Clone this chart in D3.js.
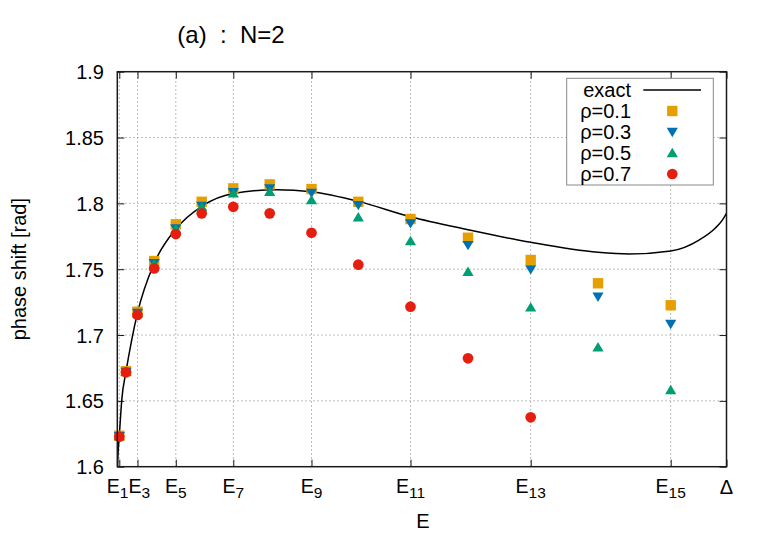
<!DOCTYPE html>
<html>
<head>
<meta charset="utf-8">
<script src="https://cdn.jsdelivr.net/npm/d3@7"></script>
<style>
  body { margin: 0; background: #fff; }
  svg { display: block; font-family: "Liberation Sans", Arial, sans-serif; }
</style>
</head>
<body>
<svg id="chart" width="765" height="535"></svg>
<script>
// ---------- data (E in units of Δ) ----------
const levels = [0.00328, 0.01428, 0.03316, 0.06057, 0.09603, 0.13854, 0.19041, 0.25016,
                0.31878, 0.3956, 0.48129, 0.57567, 0.67859, 0.78907, 0.90841];
const rho01 = [1.6235, 1.6725, 1.7177, 1.7562, 1.7841, 1.8012, 1.8114, 1.8144, 1.8109, 1.8012, 1.7881, 1.7739, 1.7570, 1.7393, 1.7226];
const rho03 = [1.6232, 1.6720, 1.7167, 1.7545, 1.7810, 1.7980, 1.8084, 1.8114, 1.8080, 1.7987, 1.7848, 1.7683, 1.7499, 1.7291, 1.7084];
const rho05 = [1.6232, 1.6720, 1.7165, 1.7540, 1.7803, 1.7974, 1.8076, 1.8088, 1.8025, 1.7894, 1.7714, 1.7481, 1.7210, 1.6907, 1.6582];
const rho07 = [1.6228, 1.6717, 1.7152, 1.7506, 1.7767, 1.7924, 1.7974, 1.7924, 1.7777, 1.7534, 1.7215, 1.6823, 1.6375];
const exactE = [0.0001, 0.0008, 0.00328, 0.0073, 0.01428, 0.0236, 0.03316, 0.06057, 0.09603, 0.13854,
                0.19041, 0.2613, 0.31878, 0.3956, 0.48129, 0.57567, 0.67859, 0.78907, 0.84, 0.90841,
                0.9549, 0.9822, 0.9932, 1.0];
const exactV = [1.585, 1.605, 1.6232, 1.6506, 1.6722, 1.6962, 1.7168, 1.7545, 1.7805, 1.7978,
                1.8075, 1.8104, 1.8088, 1.8015, 1.7898, 1.7800, 1.7704, 1.7628, 1.7615, 1.7638,
                1.7721, 1.7815, 1.7873, 1.7924];
const xTickIndex = [1, 3, 5, 7, 9, 11, 13, 15];
const xTickSubs = ["1", "3", "5", "7", "9", "11", "13", "15"];
const yTicks = [1.6, 1.65, 1.7, 1.75, 1.8, 1.85, 1.9];
const yTickLabels = ["1.6", "1.65", "1.7", "1.75", "1.8", "1.85", "1.9"];
const seriesNames = ["ρ=0.1", "ρ=0.3", "ρ=0.5", "ρ=0.7"];
const seriesColors = ["#e69f00", "#0072b2", "#009e73", "#e51e10"];
const seriesShapes = ["square", "down", "up", "circle"];
const titleText = "(a)  :  N=2";

// ---------- layout ----------
const L = 117.3, R = 726.5, T = 71.7, B = 466.7;
const svg = d3.select("#chart");
const x = d3.scaleLinear().domain([0, 1]).range([L, R]);
const y = d3.scaleLinear().domain([1.6, 1.9]).range([B, T]);

const xTickVals = xTickIndex.map(i => levels[i - 1]).concat([1]);

// grid
const grid = svg.append("g").attr("stroke", "#a8a8a8").attr("stroke-width", 1)
  .attr("stroke-dasharray", "1.5,2.5").attr("fill", "none");
grid.selectAll("line.vx").data(xTickVals.slice(0, -1)).enter().append("line")
  .attr("x1", d => x(d)).attr("x2", d => x(d)).attr("y1", B).attr("y2", T);
grid.selectAll("line.hy").data(yTicks.slice(1, -1)).enter().append("line")
  .attr("x1", L).attr("x2", R).attr("y1", d => y(d)).attr("y2", d => y(d));

// axes with inward ticks (mirrored)
const tickLen = 7;
const axCol = "#1a1a1a";
function styleAxis(g) {
  g.select(".domain").remove();
  g.selectAll(".tick line").attr("stroke", axCol).attr("stroke-width", 1);
  g.selectAll(".tick text").remove();
}
svg.append("g").attr("transform", `translate(0,${B})`)
  .call(d3.axisTop(x).tickValues(xTickVals).tickSize(tickLen)).call(styleAxis);
svg.append("g").attr("transform", `translate(0,${T})`)
  .call(d3.axisBottom(x).tickValues(xTickVals).tickSize(tickLen)).call(styleAxis);
svg.append("g").attr("transform", `translate(${L},0)`)
  .call(d3.axisRight(y).tickValues(yTicks).tickSize(tickLen)).call(styleAxis);
svg.append("g").attr("transform", `translate(${R},0)`)
  .call(d3.axisLeft(y).tickValues(yTicks).tickSize(tickLen)).call(styleAxis);

// y tick labels
svg.append("g").selectAll("text").data(yTicks).enter().append("text")
  .attr("x", 104).attr("y", d => y(d) + 7.5).attr("text-anchor", "end")
  .attr("font-size", 20).attr("fill", "#000").text((d, i) => yTickLabels[i]);

// x tick labels (first two nudged apart so they just touch, as in the reference)
const nudge = { "1": -1.7, "3": 1.8 };
const xl = svg.append("g");
xTickIndex.forEach((idx, i) => {
  const t = xl.append("text").attr("x", x(levels[idx - 1]) + (nudge[xTickSubs[i]] || 0)).attr("y", 492.5)
    .attr("text-anchor", "middle").attr("fill", "#000");
  t.append("tspan").attr("font-size", 19.5).text("E");
  t.append("tspan").attr("font-size", 15.5).attr("dy", 5.2).text(xTickSubs[i]);
});
xl.append("text").attr("x", x(1)).attr("y", 494).attr("text-anchor", "middle")
  .attr("font-size", 20).attr("fill", "#000").text("Δ");

// axis titles
svg.append("text").attr("x", 423).attr("y", 528).attr("text-anchor", "middle")
  .attr("font-size", 20).attr("fill", "#000").text("E");
svg.append("text").attr("transform", "translate(26,269.2) rotate(-90)")
  .attr("text-anchor", "middle").attr("font-size", 20).attr("fill", "#000")
  .text("phase shift [rad]");
svg.append("text").attr("x", 231).attr("y", 43.3).attr("text-anchor", "middle")
  .attr("font-size", 24).attr("fill", "#000").style("white-space", "pre")
  .text(titleText);

// clip
svg.append("clipPath").attr("id", "plotclip").append("rect")
  .attr("x", L).attr("y", T).attr("width", R - L).attr("height", B - T);

// exact curve
const exactData = exactE.map((e, i) => [e, exactV[i]]);
const line = d3.line().x(d => x(d[0])).y(d => y(d[1])).curve(d3.curveMonotoneX);
svg.append("path").datum(exactData).attr("d", line).attr("fill", "none")
  .attr("stroke", "#000").attr("stroke-width", 1.5).attr("clip-path", "url(#plotclip)");

// marker path generator
function markerPath(shape) {
  if (shape === "square") return "M-5.2,-5.2H5.2V5.2H-5.2Z";
  if (shape === "down") return "M-5.6,-4.2L5.6,-4.2L0,5.2Z";
  if (shape === "up") return "M-5.6,4.2L5.6,4.2L0,-5.2Z";
  return d3.symbol(d3.symbolCircle, 90)();
}

const series = [rho01, rho03, rho05, rho07];
series.forEach((vals, s) => {
  svg.append("g").selectAll("path").data(vals).enter().append("path")
    .attr("d", markerPath(seriesShapes[s]))
    .attr("transform", (d, i) => `translate(${x(levels[i])},${y(d)})`)
    .attr("fill", seriesColors[s]);
});

// border
svg.append("rect").attr("x", L).attr("y", T).attr("width", R - L).attr("height", B - T)
  .attr("fill", "none").attr("stroke", axCol).attr("stroke-width", 1.5);

// legend
const lg = svg.append("g");
lg.append("rect").attr("x", 566.7).attr("y", 78.3).attr("width", 146.6).attr("height", 106.7)
  .attr("fill", "#fff").attr("stroke", "#8a8a8a").attr("stroke-width", 1);
const rowY = [90, 111, 132, 153, 174];
lg.append("text").attr("x", 631).attr("y", rowY[0] + 7).attr("text-anchor", "end")
  .attr("font-size", 20).attr("fill", "#000").text("exact");
lg.append("line").attr("x1", 643.3).attr("x2", 701).attr("y1", rowY[0]).attr("y2", rowY[0])
  .attr("stroke", "#000").attr("stroke-width", 1.5);
seriesNames.forEach((nm, s) => {
  lg.append("text").attr("x", 631).attr("y", rowY[s + 1] + 7).attr("text-anchor", "end")
    .attr("font-size", 20).attr("fill", "#000").text(nm);
  lg.append("path").attr("d", markerPath(seriesShapes[s]))
    .attr("transform", `translate(672.3,${rowY[s + 1]})`).attr("fill", seriesColors[s]);
});
</script>
</body>
</html>
